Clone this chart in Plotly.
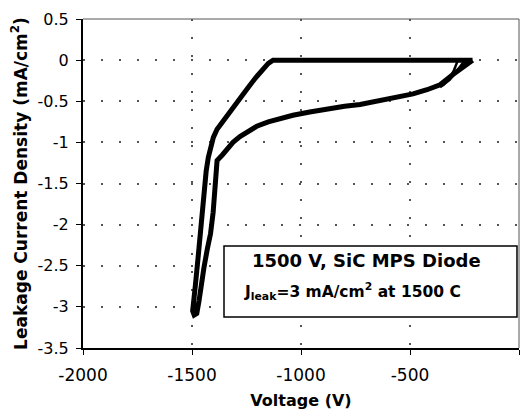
import plotly.graph_objects as go

# ---- data ----
# main loop (V, mA/cm^2)
voltage_loop = [-213, -1128, -1150, -1180, -1210, -1250, -1290, -1330, -1360, -1385,
                -1402, -1415, -1425, -1435, -1443, -1450, -1460, -1472, -1485, -1494,
                -1497, -1490, -1478, -1468, -1458, -1445, -1430, -1415, -1403, -1394,
                -1388, -1385, -1360, -1339, -1312, -1280, -1240, -1200, -1150, -1100,
                -1037, -960, -881, -800, -729, -650, -578, -486, -422, -362,
                -300, -250, -213]
current_loop = [0, 0, -0.04, -0.12, -0.22, -0.36, -0.50, -0.64, -0.74, -0.84,
                -0.94, -1.05, -1.18, -1.35, -1.55, -1.72, -2.00, -2.40, -2.75, -2.95,
                -3.05, -3.10, -3.08, -2.93, -2.72, -2.52, -2.30, -2.11, -1.85, -1.60,
                -1.40, -1.22, -1.15, -1.08, -1.00, -0.93, -0.86, -0.80, -0.75, -0.71,
                -0.67, -0.63, -0.59, -0.56, -0.54, -0.50, -0.46, -0.41, -0.36, -0.30,
                -0.17, -0.07, 0]
# extra return strands near the right end
voltage_strand_a = [-362, -318, -282, -248]
current_strand_a = [-0.33, -0.24, -0.12, 0]
voltage_strand_b = [-350, -318, -298, -280]
current_strand_b = [-0.31, -0.22, -0.12, 0]

x_tickvals = [-2000, -1500, -1000, -500, 0]
x_ticktext = ["-2000", "-1500", "-1000", "-500", "0"]
y_tickvals = [0.5, 0, -0.5, -1, -1.5, -2, -2.5, -3, -3.5]
y_ticktext = ["0.5", "0", "-0.5", "-1", "-1.5", "-2", "-2.5", "-3", "-3.5"]

FONT = "DejaVu Sans"

fig = go.Figure()
fig.add_trace(go.Scatter(x=voltage_loop, y=current_loop, mode="lines",
                         line=dict(color="black", width=5), showlegend=False))
fig.add_trace(go.Scatter(x=voltage_strand_a, y=current_strand_a, mode="lines",
                         line=dict(color="black", width=2.5), showlegend=False))
fig.add_trace(go.Scatter(x=voltage_strand_b, y=current_strand_b, mode="lines",
                         line=dict(color="black", width=2.5), showlegend=False))

shapes = [
    dict(type="line", xref="paper", yref="paper", x0=0, x1=1, y0=1, y1=1,
         line=dict(color="#555", width=1)),
    dict(type="line", xref="paper", yref="paper", x0=1, x1=1, y0=0, y1=1,
         line=dict(color="#555", width=1)),
    dict(type="rect", xref="paper", yref="paper", x0=0.3234, x1=0.9954,
         y0=0.0942, y1=0.310, fillcolor="white",
         line=dict(color="black", width=1.5), layer="above"),
]

fig.update_layout(
    width=521, height=412,
    margin=dict(l=83, r=2, t=19, b=64),
    paper_bgcolor="white", plot_bgcolor="white",
    font=dict(family=FONT, color="black"),
    xaxis=dict(
        range=[-2000, 0], tickvals=x_tickvals, ticktext=x_ticktext,
        showline=True, linecolor="black", linewidth=1.5,
        ticks="outside", ticklen=5, tickcolor="black",
        tickfont=dict(size=17, family=FONT),
        ticklabelstandoff=6,
        showgrid=True, gridcolor="#555555", gridwidth=1.5, griddash="2px,16px",
        zeroline=False,
        title=dict(text="<b>Voltage (V)</b>", font=dict(size=16, family=FONT), standoff=11),
    ),
    yaxis=dict(
        range=[-3.5, 0.5], tickvals=y_tickvals, ticktext=y_ticktext,
        showline=True, linecolor="black", linewidth=2,
        ticks="outside", ticklen=5, tickcolor="black",
        tickfont=dict(size=16, family=FONT),
        ticklabelstandoff=4,
        showgrid=True, gridcolor="#555555", gridwidth=1.5, griddash="2px,16px",
        zeroline=False,
        title=dict(text="<b>Leakage Current Density (mA/cm<sup>2</sup>)</b>",
                   font=dict(size=17, family=FONT), standoff=6),
    ),
    shapes=shapes,
    annotations=[
        dict(xref="paper", yref="paper", x=0.651, y=0.266, showarrow=False,
             text="<b>1500 V, SiC MPS Diode</b>", font=dict(size=18, family=FONT),
             xanchor="center", yanchor="middle"),
        dict(xref="paper", yref="paper", x=0.618, y=0.172, showarrow=False,
             text="<b>J<sub>leak</sub>=3 mA/cm<sup>2</sup> at 1500 C</b>",
             font=dict(size=15.5, family=FONT), xanchor="center", yanchor="middle"),
    ],
)

fig.write_html("out.html")
